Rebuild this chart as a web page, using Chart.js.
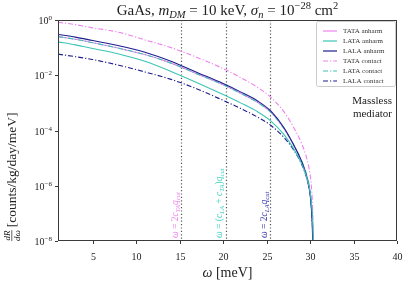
<!DOCTYPE html>
<html>
<head>
<meta charset="utf-8">
<script src="https://cdn.jsdelivr.net/npm/chart.js@4/dist/chart.umd.min.js"></script>
<style>
  html, body { margin: 0; padding: 0; background: #fff; }
  canvas { display: block; }
</style>
</head>
<body>
<canvas id="chart" width="407" height="284"></canvas>
<script>
// energy grid in meV
const omega = [1, 3, 5, 8, 11, 14, 17, 20, 22, 24, 25.5, 27, 28, 29, 29.5, 29.9, 30.1, 30.25, 30.35, 30.45];

// rates, counts/kg/day/meV
const tataAnharm  = [2.5e-1, 2.0e-1, 1.5e-1, 9.5e-2, 5.6e-2, 2.75e-2, 1.12e-2, 4.5e-3, 2.24e-3, 1.02e-3, 4.5e-4, 1.17e-4, 3.5e-5, 8.3e-6, 3.2e-6, 1.0e-6, 3.5e-7, 7.9e-8, 1.26e-8, 3e-10];
const lataAnharm  = [1.62e-1, 1.26e-1, 9.3e-2, 5.9e-2, 3.2e-2, 1.38e-2, 5.4e-3, 2.0e-3, 1.0e-3, 4.7e-4, 2.2e-4, 7.1e-5, 2.5e-5, 6.6e-6, 2.6e-6, 8.9e-7, 3.5e-7, 1.0e-7, 1.6e-8, 3e-10];
const lalaAnharm  = [3.0e-1, 2.4e-1, 1.8e-1, 1.17e-1, 6.8e-2, 3.2e-2, 1.26e-2, 5.0e-3, 2.5e-3, 1.15e-3, 5.0e-4, 1.26e-4, 3.5e-5, 7.9e-6, 2.8e-6, 7.9e-7, 2.5e-7, 4.0e-8, 3.2e-9, 1e-10];
const tataContact = [8.3e-1, 6.8e-1, 5.2e-1, 3.6e-1, 1.9e-1, 1.0e-1, 4.4e-2, 1.74e-2, 8.3e-3, 3.55e-3, 1.58e-3, 4.7e-4, 1.5e-4, 3.55e-5, 1.32e-5, 4.0e-6, 1.41e-6, 3.2e-7, 4.0e-8, 1.6e-9];
const lataContact = [2.5e-1, 2.0e-1, 1.5e-1, 9.5e-2, 5.6e-2, 2.75e-2, 1.12e-2, 4.5e-3, 2.24e-3, 1.02e-3, 4.5e-4, 1.17e-4, 3.5e-5, 8.3e-6, 3.2e-6, 1.0e-6, 3.5e-7, 7.9e-8, 1.26e-8, 3e-10];
const lalaContact = [5.8e-2, 4.7e-2, 3.7e-2, 2.3e-2, 1.32e-2, 7.1e-3, 3.2e-3, 1.23e-3, 6.3e-4, 3.0e-4, 1.51e-4, 5.6e-5, 2.24e-5, 6.3e-6, 2.5e-6, 7.9e-7, 2.8e-7, 5.0e-8, 5.0e-9, 1e-10];

const seriesNames = ['TATA anharm', 'LATA anharm', 'LALA anharm', 'TATA contact', 'LATA contact', 'LALA contact'];

// thresholds (vertical dotted lines), meV
const thresholds = [15.2, 20.3, 25.4];

const xTicks = [5, 10, 15, 20, 25, 30, 35, 40];
const yTicks = [1e-8, 1e-6, 1e-4, 1e-2, 1];

const PINK = '#ee82ee';
const CYAN = '#3cc4b4';
const NAVY = '#1e1e8e';
const DASHDOT = [5, 2, 1.2, 2];
const SERIF = '"Liberation Serif", "DejaVu Serif", serif';

function pts(vals) {
    return omega.map((w, i) => ({ x: w, y: vals[i] }));
}

function mkSet(label, vals, color, dash, order) {
    return {
        label: label,
        data: pts(vals),
        borderColor: color,
        backgroundColor: color,
        borderWidth: 1.1,
        borderDash: dash,
        pointRadius: 0,
        cubicInterpolationMode: 'monotone',
        fill: false,
        order: order
    };
}

// rich text: parts = [[text, kind]] kind: r roman, i italic, sb sub italic, sbr sub roman, sp sup
function partFont(kind, size) {
    const small = (kind === 'sb' || kind === 'sbr' || kind === 'sp');
    const px = small ? size * 0.7 : size;
    const italic = (kind === 'i' || kind === 'sb');
    return (italic ? 'italic ' : '') + px + 'px ' + SERIF;
}
function richWidth(ctx, parts, size) {
    let w = 0;
    parts.forEach(p => { ctx.font = partFont(p[1], size); w += ctx.measureText(p[0]).width; });
    return w;
}
function drawRich(ctx, parts, x, y, size) {
    parts.forEach(p => {
        ctx.font = partFont(p[1], size);
        let dy = 0;
        if (p[1] === 'sb' || p[1] === 'sbr') dy = size * 0.22;
        if (p[1] === 'sp') dy = -size * 0.42;
        ctx.fillText(p[0], x, y + dy);
        x += ctx.measureText(p[0]).width;
    });
    return x;
}

const decorPlugin = {
    id: 'decor',
    beforeDatasetsDraw(chart) {
        const ctx = chart.ctx;
        const a = chart.chartArea;
        const xs = chart.scales.x;
        ctx.save();
        ctx.strokeStyle = '#555';
        ctx.lineWidth = 1.2;
        ctx.setLineDash([1.2, 2.2]);
        thresholds.forEach(t => {
            const px = Math.round(xs.getPixelForValue(t)) + 0.5;
            ctx.beginPath();
            ctx.moveTo(px, a.top);
            ctx.lineTo(px, a.bottom);
            ctx.stroke();
        });
        ctx.restore();
    },
    afterDraw(chart) {
        const ctx = chart.ctx;
        const a = chart.chartArea;
        const xs = chart.scales.x;
        const ys = chart.scales.y;
        ctx.save();

        // frame
        ctx.strokeStyle = '#3a3a3a';
        ctx.lineWidth = 1;
        ctx.strokeRect(a.left + 0.5, a.top + 0.5, a.right - a.left - 1, a.bottom - a.top - 1);

        // x ticks
        ctx.fillStyle = '#222';
        ctx.textAlign = 'center';
        ctx.textBaseline = 'middle';
        ctx.font = '10px ' + SERIF;
        xTicks.forEach(v => {
            const px = Math.round(xs.getPixelForValue(v)) + 0.5;
            ctx.beginPath();
            ctx.moveTo(px, a.bottom);
            ctx.lineTo(px, a.bottom + 3);
            ctx.stroke();
            ctx.fillText(String(v), px, a.bottom + 16);
        });

        // y ticks
        ctx.textAlign = 'left';
        ctx.textBaseline = 'alphabetic';
        yTicks.forEach(v => {
            const py = Math.round(ys.getPixelForValue(v)) + 0.5;
            ctx.beginPath();
            ctx.moveTo(a.left - 3, py);
            ctx.lineTo(a.left, py);
            ctx.stroke();
            const e = Math.round(Math.log10(v));
            const parts = [['10', 'r'], [e < 0 ? '\u2212' + (-e) : String(e), 'sp']];
            const w = richWidth(ctx, parts, 10);
            drawRich(ctx, parts, a.left - 6 - w, py + 3.5, 10);
        });

        // title
        const title = [['GaAs, ', 'r'], ['m', 'i'], ['DM', 'sb'], [' = 10 keV, ', 'r'], ['\u03c3', 'i'], ['n', 'sb'],
                       [' = 10', 'r'], ['\u221228', 'sp'], [' cm', 'r'], ['2', 'sp']];
        const tw = richWidth(ctx, title, 15);
        drawRich(ctx, title, (a.left + a.right) / 2 - tw / 2, 15, 15);

        // x label
        const xl = [['\u03c9', 'i'], [' [meV]', 'r']];
        const xw = richWidth(ctx, xl, 14);
        drawRich(ctx, xl, (a.left + a.right) / 2 - xw / 2, 277, 14);

        // y label (rotated)
        ctx.save();
        ctx.translate(16, 241);
        ctx.rotate(-Math.PI / 2);
        ctx.font = 'italic 9px ' + SERIF;
        const nw = ctx.measureText('dR').width;
        const dw = ctx.measureText('d\u03c9').width;
        const fw = Math.max(nw, dw);
        ctx.textAlign = 'center';
        ctx.fillText('dR', fw / 2, -6);
        ctx.fillText('d\u03c9', fw / 2, 4);
        ctx.fillRect(0, -4.5, fw, 0.7);
        ctx.textAlign = 'left';
        ctx.font = '13.5px ' + SERIF;
        ctx.fillText('[counts/kg/day/meV]', fw + 3, 0);
        ctx.restore();

        // threshold labels (rotated)
        const labels = [
            [[['\u03c9', 'i'], [' = 2', 'r'], ['c', 'i'], ['TA', 'sb'], ['q', 'i'], ['cut', 'sb']], PINK],
            [[['\u03c9', 'i'], [' = (', 'r'], ['c', 'i'], ['LA', 'sb'], [' + ', 'r'], ['c', 'i'], ['TA', 'sb'], [')', 'r'], ['q', 'i'], ['cut', 'sb']], '#40d0c0'],
            [[['\u03c9', 'i'], [' = 2', 'r'], ['c', 'i'], ['LA', 'sb'], ['q', 'i'], ['cut', 'sb']], '#3434a8']
        ];
        labels.forEach((l, i) => {
            const px = xs.getPixelForValue(thresholds[i]);
            ctx.save();
            ctx.translate(px - 3.5, a.bottom - 3);
            ctx.rotate(-Math.PI / 2);
            ctx.fillStyle = l[1];
            drawRich(ctx, l[0], 0, 0, 9.5);
            ctx.restore();
        });

        // mediator note
        ctx.fillStyle = '#222';
        ctx.textAlign = 'right';
        ctx.font = '11px ' + SERIF;
        ctx.fillText('Massless', a.right - 5, 104);
        ctx.fillText('mediator', a.right - 5, 117);

        // legend
        const lx = 316, ly = 21, lw = 79, lh = 65;
        ctx.fillStyle = 'rgba(255,255,255,0.85)';
        ctx.strokeStyle = '#cccccc';
        ctx.lineWidth = 1;
        ctx.beginPath();
        ctx.roundRect(lx + 0.5, ly + 0.5, lw, lh, 2);
        ctx.fill();
        ctx.stroke();
        ctx.font = '7px ' + SERIF;
        ctx.textAlign = 'left';
        ctx.textBaseline = 'middle';
        chart.data.datasets.forEach((ds, i) => {
            const y = ly + 10 + i * 10;
            ctx.strokeStyle = ds.borderColor;
            ctx.lineWidth = 1.2;
            ctx.setLineDash(ds.borderDash || []);
            ctx.beginPath();
            ctx.moveTo(lx + 7, y);
            ctx.lineTo(lx + 21, y);
            ctx.stroke();
            ctx.setLineDash([]);
            ctx.fillStyle = '#333';
            ctx.fillText(ds.label, lx + 27, y + 0.5);
        });

        ctx.restore();
    }
};

new Chart(document.getElementById('chart'), {
    type: 'line',
    data: {
        datasets: [
            mkSet(seriesNames[0], tataAnharm, PINK, [], 9),
            mkSet(seriesNames[1], lataAnharm, CYAN, [], 1),
            mkSet(seriesNames[2], lalaAnharm, NAVY, [], 2),
            mkSet(seriesNames[3], tataContact, PINK, DASHDOT, 3),
            mkSet(seriesNames[4], lataContact, CYAN, DASHDOT, 4),
            mkSet(seriesNames[5], lalaContact, NAVY, DASHDOT, 5)
        ]
    },
    options: {
        responsive: false,
        animation: false,
        devicePixelRatio: 1,
        layout: { padding: { left: 58, right: 10, top: 20, bottom: 43 } },
        scales: {
            x: { type: 'linear', min: 1, max: 40, display: false },
            y: { type: 'logarithmic', min: 1e-8, max: 1, display: false }
        },
        plugins: {
            legend: { display: false },
            tooltip: { enabled: false }
        }
    },
    plugins: [decorPlugin]
});
</script>
</body>
</html>
